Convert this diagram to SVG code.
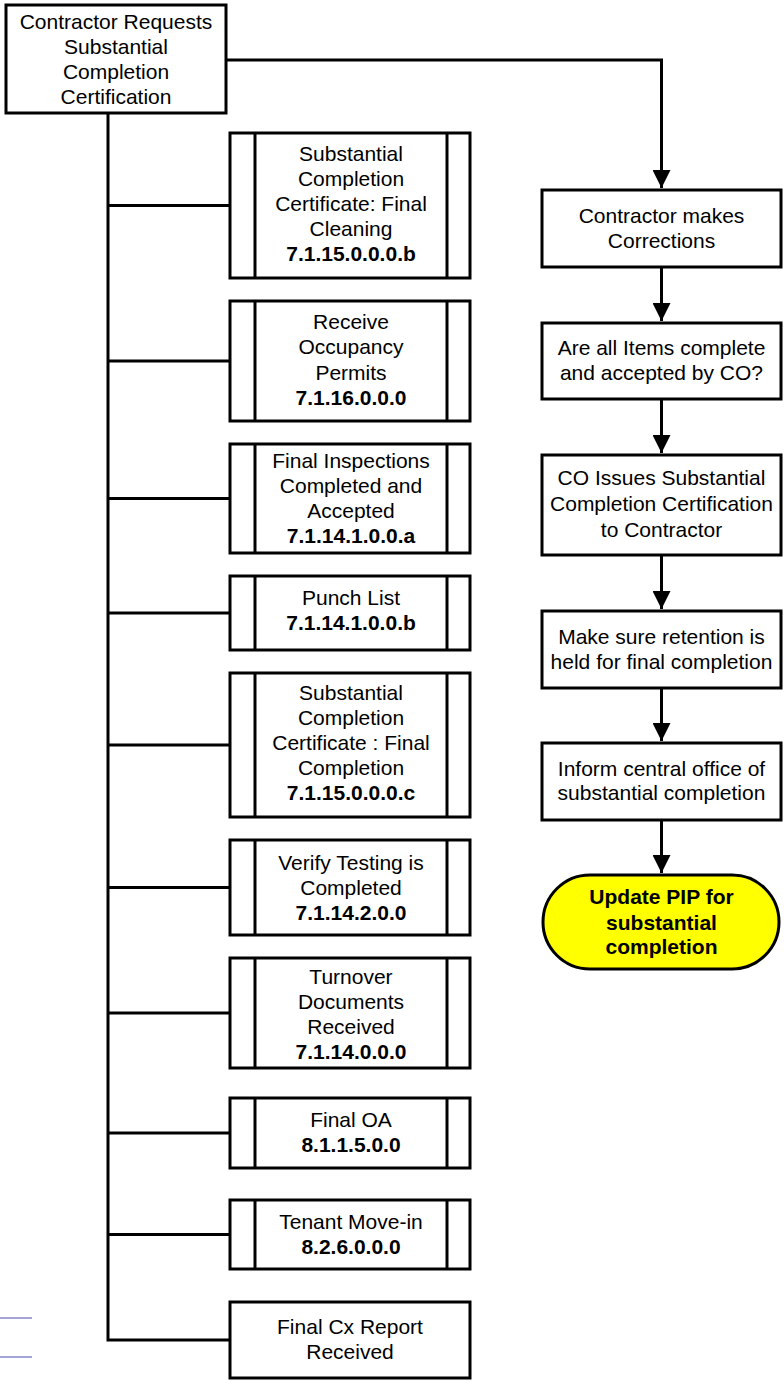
<svg xmlns="http://www.w3.org/2000/svg" width="784" height="1381" viewBox="0 0 784 1381">
<style>
.box{fill:#fff;stroke:#000;stroke-width:3}
.term{fill:#ffff00;stroke:#000;stroke-width:3}
.in{stroke:#000;stroke-width:3}
.ln{fill:none;stroke:#000;stroke-width:3}
.blue{stroke:#8884c8;stroke-width:1.5}
text{font-family:"Liberation Sans",Arial,sans-serif;font-size:21px;text-anchor:middle;fill:#000}
.b{font-weight:bold}
</style>
<defs>
<marker id="arr" markerWidth="6" markerHeight="6" refX="6" refY="3" orient="auto" markerUnits="strokeWidth">
<path d="M0,0 L6,3 L0,6 Z" fill="#000"/>
</marker>
</defs>
<rect width="784" height="1381" fill="#fff"/>
<g id="connectors">
<path class="ln" d="M108,113 V1340 H230"/>
<path class="ln" d="M108,205.5 H230"/>
<path class="ln" d="M108,361 H230"/>
<path class="ln" d="M108,498.5 H230"/>
<path class="ln" d="M108,613 H230"/>
<path class="ln" d="M108,745 H230"/>
<path class="ln" d="M108,887.5 H230"/>
<path class="ln" d="M108,1013 H230"/>
<path class="ln" d="M108,1133 H230"/>
<path class="ln" d="M108,1234.5 H230"/>
<path class="ln" d="M226,60 H661.5 V188" marker-end="url(#arr)"/>
<path class="ln" d="M661.5,267 V321" marker-end="url(#arr)"/>
<path class="ln" d="M661.5,399 V453" marker-end="url(#arr)"/>
<path class="ln" d="M661.5,555 V609" marker-end="url(#arr)"/>
<path class="ln" d="M661.5,688 V741" marker-end="url(#arr)"/>
<path class="ln" d="M661.5,820 V873" marker-end="url(#arr)"/>
</g>
<g id="n0">
<rect class="box" x="6" y="5" width="220" height="108"/>
<text x="116" y="29">Contractor Requests</text>
<text x="116" y="54">Substantial</text>
<text x="116" y="79">Completion</text>
<text x="116" y="104">Certification</text>
</g>
<g id="n1">
<rect class="box" x="230" y="133" width="240" height="145"/>
<line class="in" x1="255" y1="133" x2="255" y2="278"/><line class="in" x1="447" y1="133" x2="447" y2="278"/>
<text x="351" y="161">Substantial</text>
<text x="351" y="186">Completion</text>
<text x="351" y="211">Certificate: Final</text>
<text x="351" y="236">Cleaning</text>
<text x="351" y="261" class="b">7.1.15.0.0.0.b</text>
</g>
<g id="n2">
<rect class="box" x="230" y="301" width="240" height="120"/>
<line class="in" x1="255" y1="301" x2="255" y2="421"/><line class="in" x1="447" y1="301" x2="447" y2="421"/>
<text x="351" y="329">Receive</text>
<text x="351" y="354">Occupancy</text>
<text x="351" y="380">Permits</text>
<text x="351" y="405" class="b">7.1.16.0.0.0</text>
</g>
<g id="n3">
<rect class="box" x="230" y="444" width="240" height="109"/>
<line class="in" x1="255" y1="444" x2="255" y2="553"/><line class="in" x1="447" y1="444" x2="447" y2="553"/>
<text x="351" y="468">Final Inspections</text>
<text x="351" y="493">Completed and</text>
<text x="351" y="518">Accepted</text>
<text x="351" y="543" class="b">7.1.14.1.0.0.a</text>
</g>
<g id="n4">
<rect class="box" x="230" y="576" width="240" height="74"/>
<line class="in" x1="255" y1="576" x2="255" y2="650"/><line class="in" x1="447" y1="576" x2="447" y2="650"/>
<text x="351" y="605">Punch List</text>
<text x="351" y="630" class="b">7.1.14.1.0.0.b</text>
</g>
<g id="n5">
<rect class="box" x="230" y="673" width="240" height="144"/>
<line class="in" x1="255" y1="673" x2="255" y2="817"/><line class="in" x1="447" y1="673" x2="447" y2="817"/>
<text x="351" y="700">Substantial</text>
<text x="351" y="725">Completion</text>
<text x="351" y="750">Certificate : Final</text>
<text x="351" y="775">Completion</text>
<text x="351" y="800" class="b">7.1.15.0.0.0.c</text>
</g>
<g id="n6">
<rect class="box" x="230" y="840" width="240" height="95"/>
<line class="in" x1="255" y1="840" x2="255" y2="935"/><line class="in" x1="447" y1="840" x2="447" y2="935"/>
<text x="351" y="870">Verify Testing is</text>
<text x="351" y="895">Completed</text>
<text x="351" y="920" class="b">7.1.14.2.0.0</text>
</g>
<g id="n7">
<rect class="box" x="230" y="958" width="240" height="110"/>
<line class="in" x1="255" y1="958" x2="255" y2="1068"/><line class="in" x1="447" y1="958" x2="447" y2="1068"/>
<text x="351" y="984">Turnover</text>
<text x="351" y="1009">Documents</text>
<text x="351" y="1034">Received</text>
<text x="351" y="1059" class="b">7.1.14.0.0.0</text>
</g>
<g id="n8">
<rect class="box" x="230" y="1098" width="240" height="70"/>
<line class="in" x1="255" y1="1098" x2="255" y2="1168"/><line class="in" x1="447" y1="1098" x2="447" y2="1168"/>
<text x="351" y="1127">Final OA</text>
<text x="351" y="1152" class="b">8.1.1.5.0.0</text>
</g>
<g id="n9">
<rect class="box" x="230" y="1200" width="240" height="69"/>
<line class="in" x1="255" y1="1200" x2="255" y2="1269"/><line class="in" x1="447" y1="1200" x2="447" y2="1269"/>
<text x="351" y="1229">Tenant Move-in</text>
<text x="351" y="1254" class="b">8.2.6.0.0.0</text>
</g>
<g id="n10">
<rect class="box" x="230" y="1302" width="240" height="76"/>
<text x="350" y="1334">Final Cx Report</text>
<text x="350" y="1359">Received</text>
</g>
<g id="r1">
<rect class="box" x="542" y="190" width="239" height="77"/>
<text x="661.5" y="223">Contractor makes</text>
<text x="661.5" y="248">Corrections</text>
</g>
<g id="r2">
<rect class="box" x="542" y="323" width="239" height="76"/>
<text x="661.5" y="355">Are all Items complete</text>
<text x="661.5" y="380">and accepted by CO?</text>
</g>
<g id="r3">
<rect class="box" x="542" y="455" width="239" height="100"/>
<text x="661.5" y="485">CO Issues Substantial</text>
<text x="661.5" y="511">Completion Certification</text>
<text x="661.5" y="537">to Contractor</text>
</g>
<g id="r4">
<rect class="box" x="542" y="611" width="239" height="77"/>
<text x="661.5" y="644">Make sure retention is</text>
<text x="661.5" y="669">held for final completion</text>
</g>
<g id="r5">
<rect class="box" x="542" y="743" width="239" height="77"/>
<text x="661.5" y="776">Inform central office of</text>
<text x="661.5" y="800">substantial completion</text>
</g>
<g id="r6">
<rect class="term" x="543" y="875" width="236" height="94" rx="47" ry="47"/>
<text x="661.5" y="904" class="b">Update PIP for</text>
<text x="661.5" y="930" class="b">substantial</text>
<text x="661.5" y="954" class="b">completion</text>
</g>
<line class="blue" x1="0" y1="1318" x2="32" y2="1318"/>
<line class="blue" x1="0" y1="1357" x2="32" y2="1357"/>
</svg>
